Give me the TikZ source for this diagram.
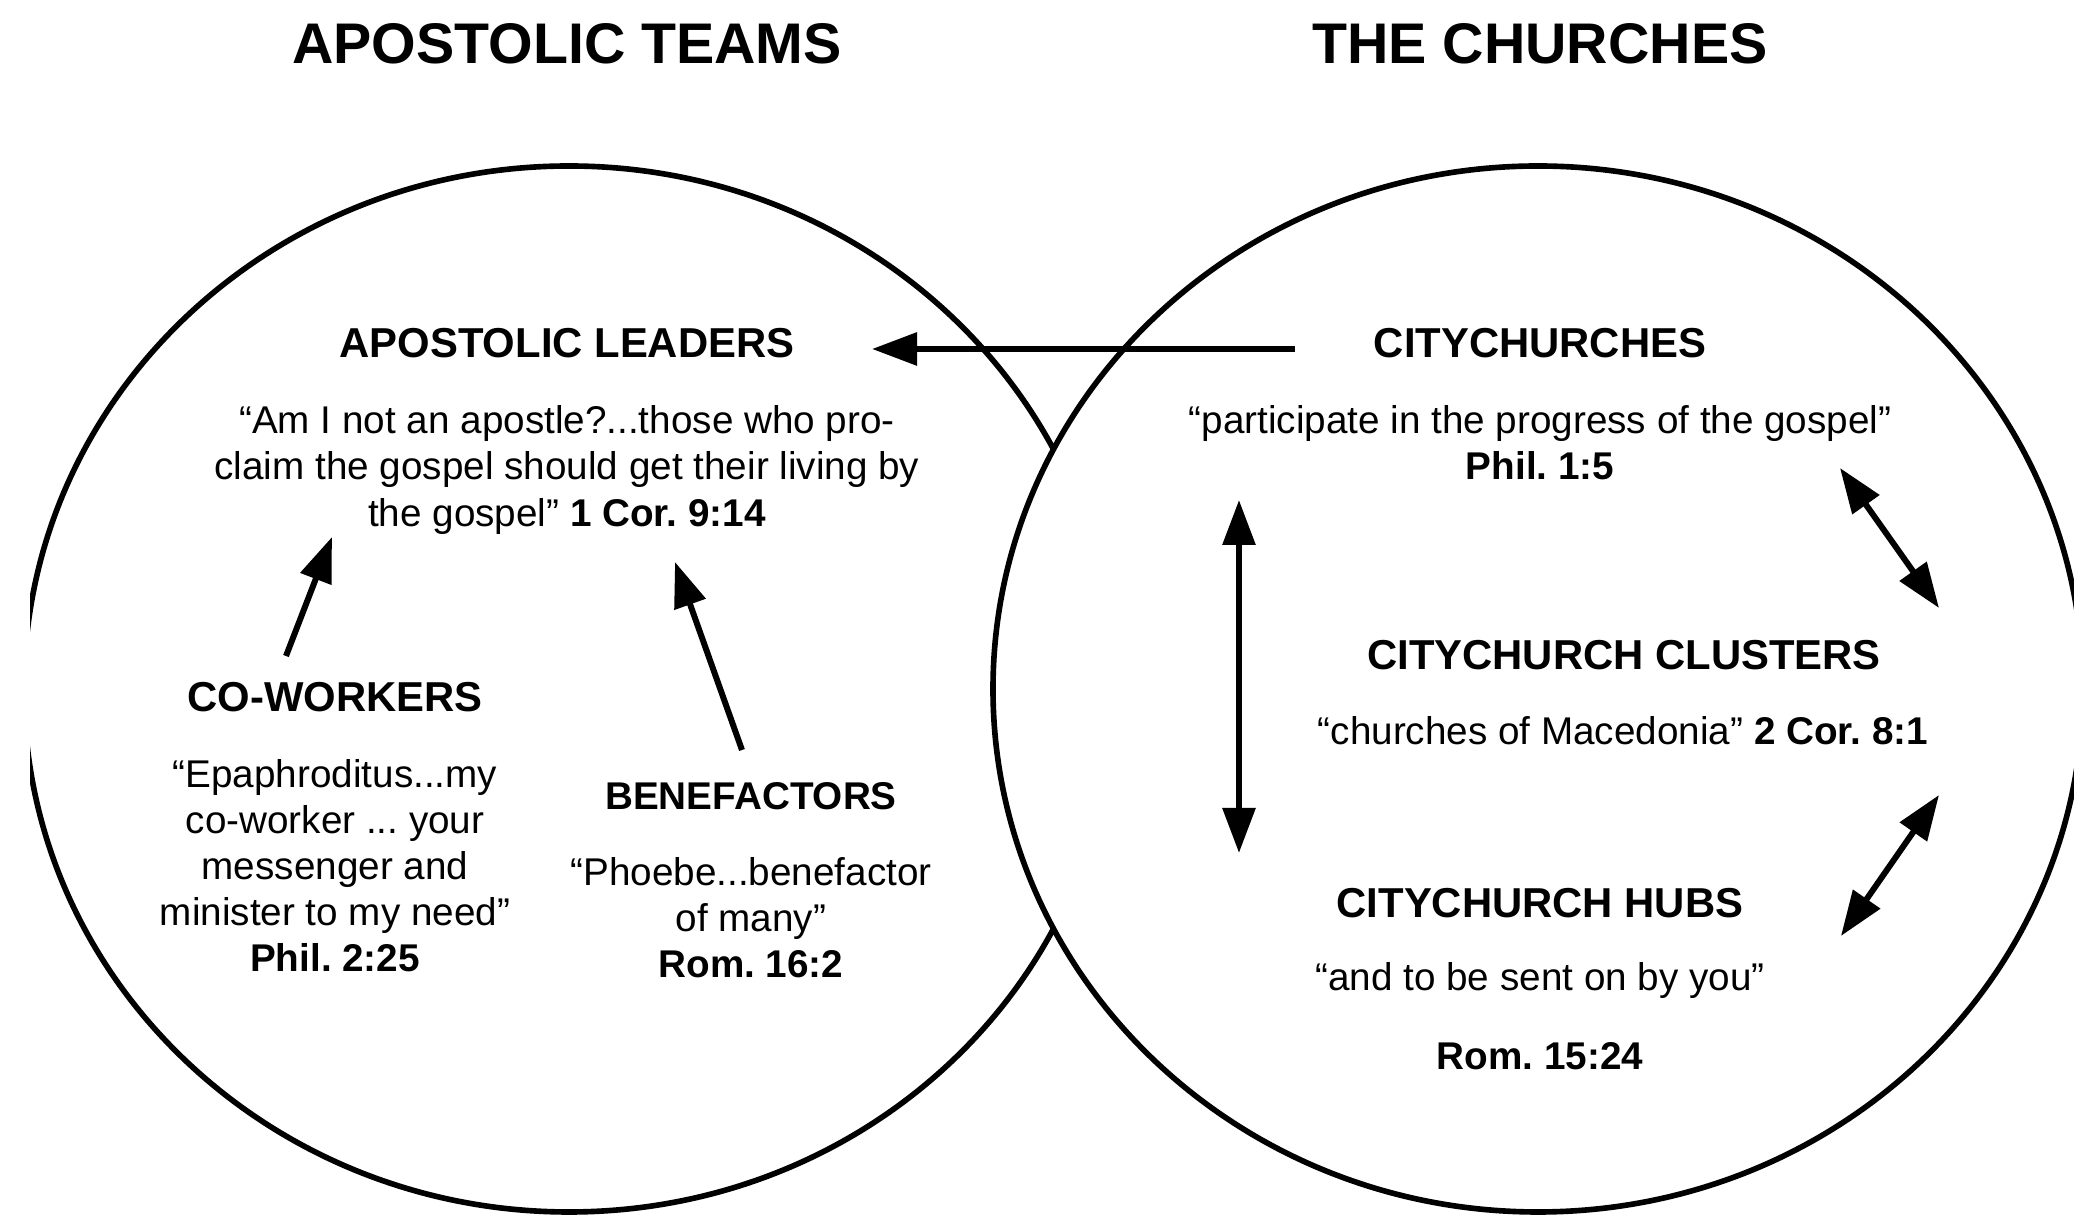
\documentclass[tikz,border=0pt]{standalone}
\usepackage{fontspec}
\setmainfont{Liberation Sans}
\usetikzlibrary{arrows.meta}
\frenchspacing

\begin{document}
\begin{tikzpicture}
\tikzstyle{ring} = [line width=1.6pt, draw=black]
\tikzstyle{title} = [inner sep=0pt, font=\fontsize{16.3}{19}\selectfont\bfseries]
\tikzstyle{head} = [inner sep=0pt, font=\fontsize{11.9}{14}\selectfont\bfseries]
\tikzstyle{quote} = [inner sep=0pt, align=center, font=\fontsize{11}{13.1}\selectfont]
\tikzstyle{e} = [line width=1.7pt, draw=black, -{Triangle[length=0.45cm, width=0.32cm]}]
\tikzstyle{ee} = [line width=1.7pt, draw=black, {Triangle[length=0.45cm, width=0.32cm]}-{Triangle[length=0.45cm, width=0.32cm]}]

\useasboundingbox (0,0) rectangle (20.74,12.18);

% circles
\begin{scope}
\clip (0.30,0) rectangle (20.74,12.18);
\draw[ring] (5.69,5.29) ellipse [x radius=5.45, y radius=5.23];
\draw[ring, fill=white] (15.38,5.29) ellipse [x radius=5.45, y radius=5.23];
\end{scope}

\node[title] (teams) at (5.67, 11.74) {APOSTOLIC TEAMS};
\node[title] (churches) at (15.40, 11.74) {THE CHURCHES};

\node[head] (leaders) at (5.67, 8.75) {APOSTOLIC LEADERS};
\node[quote] (leadq) at (5.67, 7.48) {“Am I not an apostle?...those who pro-\\claim the gospel should get their living by\\the gospel” \textbf{1 Cor. 9:14}};
\node[head] (cowork) at (3.35, 5.21) {CO-WORKERS};
\node[quote] (coworkq) at (3.35, 3.52) {“Epaphroditus...my\\co-worker ... your\\messenger and\\minister to my need”\\\textbf{Phil. 2:25}};
\node[head, font=\fontsize{11}{13}\selectfont\bfseries] (bene) at (7.51, 4.22) {BENEFACTORS};
\node[quote] (beneq) at (7.51, 3.00) {“Phoebe...benefactor\\of many”\\\textbf{Rom. 16:2}};

\node[head] (city) at (15.40, 8.75) {CITYCHURCHES};
\node[quote] (cityq) at (15.40, 7.75) {“participate in the progress of the gospel”\\\textbf{Phil. 1:5}};
\node[head] (clus) at (16.24, 5.63) {CITYCHURCH CLUSTERS};
\node[quote] (clusq) at (16.23, 4.87) {“churches of Macedonia” \textbf{2 Cor. 8:1}};
\node[head] (hubs) at (15.40, 3.15) {CITYCHURCH HUBS};
\node[quote] (hubsq) at (15.40, 2.37) {“and to be sent on by you”};
\node[quote, font=\fontsize{11}{13.1}\selectfont\bfseries] (hubsref) at (15.40, 1.62) {Rom. 15:24};

% arrow ends
\coordinate (c1) at (12.95, 8.69);
\coordinate (l1) at (8.72, 8.69);
\coordinate (w1) at (2.86, 5.62);
\coordinate (w2) at (3.32, 6.81);
\coordinate (b1) at (7.42, 4.68);
\coordinate (b2) at (6.75, 6.56);
\coordinate (v1) at (12.39, 7.18);
\coordinate (v2) at (12.39, 3.65);
\coordinate (r1) at (18.40, 7.50);
\coordinate (r2) at (19.39, 6.10);
\coordinate (r3) at (19.39, 4.23);
\coordinate (r4) at (18.41, 2.82);

\draw[e] (c1) to (l1);
\draw[e] (w1) to (w2);
\draw[e] (b1) to (b2);
\draw[ee] (v1) to (v2);
\draw[ee] (r1) to (r2);
\draw[ee] (r3) to (r4);
\end{tikzpicture}
\end{document}
